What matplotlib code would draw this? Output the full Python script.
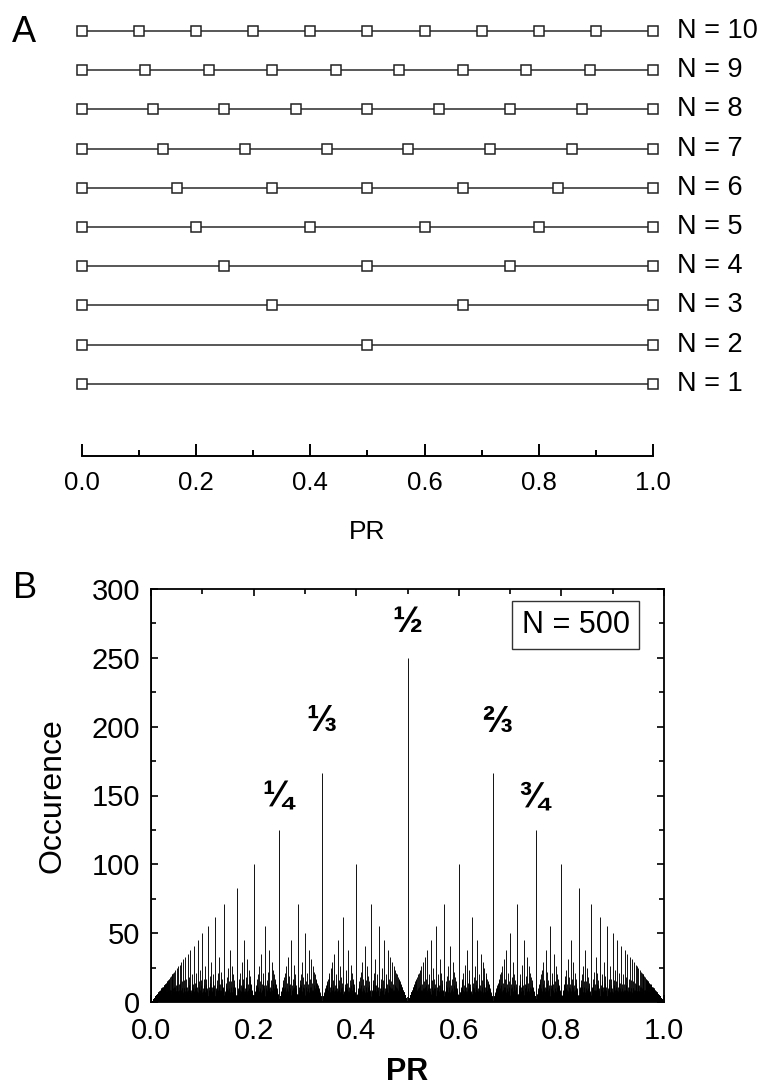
import matplotlib
matplotlib.use("Agg")
import matplotlib.pyplot as plt
import numpy as np
from math import gcd

plt.rcParams['font.family'] = ['Liberation Sans', 'DejaVu Sans']

# Panel A: PR values for each N (k/N, k = 0..N)
n_values = [10, 9, 8, 7, 6, 5, 4, 3, 2, 1]
pr_points = {
    10: [0, 0.1, 0.2, 0.3, 0.4, 0.5, 0.6, 0.7, 0.8, 0.9, 1],
    9: [0, 1/9, 2/9, 3/9, 4/9, 5/9, 6/9, 7/9, 8/9, 1],
    8: [0, 1/8, 2/8, 3/8, 4/8, 5/8, 6/8, 7/8, 1],
    7: [0, 1/7, 2/7, 3/7, 4/7, 5/7, 6/7, 1],
    6: [0, 1/6, 2/6, 3/6, 4/6, 5/6, 1],
    5: [0, 0.2, 0.4, 0.6, 0.8, 1],
    4: [0, 0.25, 0.5, 0.75, 1],
    3: [0, 1/3, 2/3, 1],
    2: [0, 0.5, 1],
    1: [0, 1],
}

# Panel B: occurrence of every PR value k/n over n = 1..500
n_max = 500
pr_values = []
occurrence = []
for q in range(1, n_max + 1):
    for p in range(0, q + 1):
        if gcd(p, q) == 1:
            pr_values.append(p / q)
            occurrence.append(n_max // q)
pr_values = np.array(pr_values)
occurrence = np.array(occurrence)

fraction_labels = ['\u00bc', '\u2153', '\u00bd', '\u2154', '\u00be']
fraction_x = [0.247, 0.333, 0.499, 0.674, 0.745]
fraction_y = [149, 204, 276, 203, 149]

fig = plt.figure(figsize=(7.63, 10.88), dpi=100)

# ---- panel A ----
axA = fig.add_axes([81.5 / 763, 1 - 455.7 / 1088, 571.8 / 763, 444.7 / 1088])
for n in n_values:
    xs = pr_points[n]
    axA.plot(xs, [n] * len(xs), '-s', color='#2a2a2a', lw=1.1,
             ms=7.5, mfc='white', mec='#222222', mew=1.1, clip_on=False)
    axA.text(1.0414, n, 'N = %d' % n, transform=axA.get_yaxis_transform(),
             fontsize=19.5, va='center', ha='left')
axA.set_xlim(0, 1)
axA.set_ylim(-0.834, 10.51)
for s in ['left', 'right', 'top']:
    axA.spines[s].set_visible(False)
axA.spines['bottom'].set_linewidth(1.4)
axA.set_yticks([])
axA.set_xticks([0, 0.2, 0.4, 0.6, 0.8, 1.0])
axA.set_xticks([0.1, 0.3, 0.5, 0.7, 0.9], minor=True)
axA.set_xticklabels(['0.0', '0.2', '0.4', '0.6', '0.8', '1.0'])
axA.tick_params(axis='x', which='major', direction='in', length=8.6, width=1.4,
                labelsize=18.5, pad=11)
axA.tick_params(axis='x', which='minor', direction='in', length=4.3, width=1.4)
axA.set_xlabel('PR', fontsize=19, labelpad=18)

fig.text(12 / 763, 1 - 42 / 1088, 'A', fontsize=26, ha='left', va='baseline')

# ---- panel B ----
axB = fig.add_axes([151 / 763, 1 - 1002 / 1088, 513 / 763, 413 / 1088])
axB.vlines(pr_values, 0, occurrence, colors='black', lw=0.65)
axB.set_xlim(0, 1)
axB.set_ylim(0, 300)
axB.set_xticks([0, 0.2, 0.4, 0.6, 0.8, 1.0])
axB.set_xticklabels(['0.0', '0.2', '0.4', '0.6', '0.8', '1.0'])
axB.set_xticks([0.1, 0.3, 0.5, 0.7, 0.9], minor=True)
axB.set_yticks([0, 50, 100, 150, 200, 250, 300])
axB.set_yticks([25, 75, 125, 175, 225, 275], minor=True)
for s in axB.spines.values():
    s.set_linewidth(1.3)
axB.tick_params(which='both', direction='in', top=True, right=True, width=1.2)
axB.tick_params(which='major', length=5, labelsize=21)
axB.tick_params(axis='y', which='major', pad=8)
axB.tick_params(axis='x', which='major', pad=10.5)
axB.tick_params(which='minor', length=3.5)
axB.set_ylabel('Occurence', fontsize=23, labelpad=17)
axB.set_xlabel('PR', fontsize=22, fontweight='bold', labelpad=9)

for lab, fx, fy in zip(fraction_labels, fraction_x, fraction_y):
    axB.text(fx, fy, lab, fontsize=26, fontweight='bold', ha='center', va='center')

axB.text(0.8275, 273.8, 'N = 500', fontsize=22, ha='center', va='center',
         bbox=dict(boxstyle='square,pad=0.3', fc='white', ec='#333333', lw=1.0))

fig.text(13 / 763, 1 - 598 / 1088, 'B', fontsize=26, ha='left', va='baseline')

fig.savefig('out.png', dpi=100)
